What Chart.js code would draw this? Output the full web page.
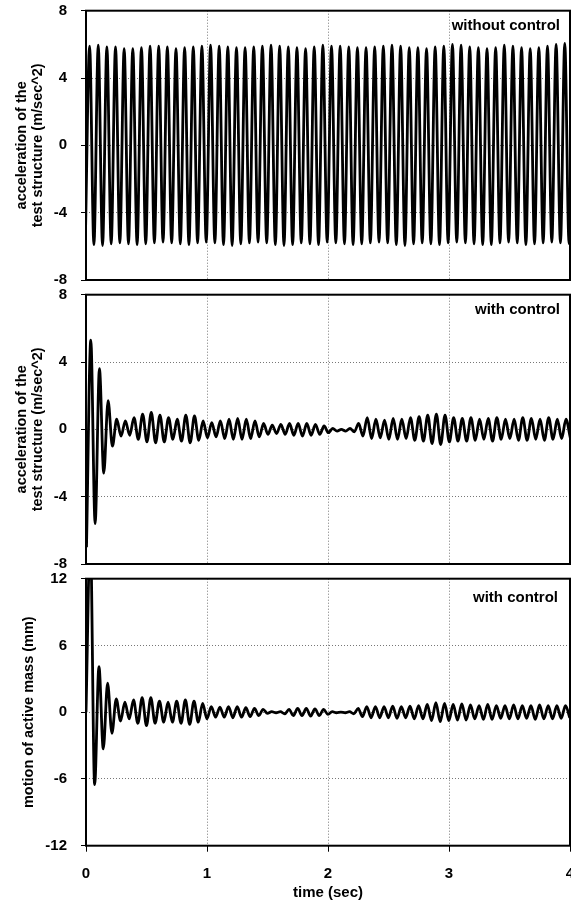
<!DOCTYPE html>
<html>
<head>
<meta charset="utf-8">
<script src="https://cdn.jsdelivr.net/npm/chart.js@4"></script>
<style>
  body { margin: 0; background: #fff; }
  #page { position: relative; width: 571px; height: 902px; overflow: hidden; }
  canvas { position: absolute; left: 0; }
  .tag { position: absolute; font: bold 15px "Liberation Sans", Arial, sans-serif; line-height: 18px; color: #000; white-space: nowrap; }
</style>
</head>
<body>
<div id="page">
  <canvas id="c1" width="571" height="290" style="top:0"></canvas>
  <canvas id="c2" width="571" height="290" style="top:284px"></canvas>
  <canvas id="c3" width="571" height="334" style="top:568px"></canvas>
  <div class="tag" style="right:11px; top:16px">without control</div>
  <div class="tag" style="right:11px; top:300px">with control</div>
  <div class="tag" style="right:13px; top:588px">with control</div>
</div>
<script>
// extremes of each oscillation (alternating trough / peak)
const halfPeriod = 0.0357;   // s, from ~14 cycles per second

// top panel, without control
const freeStart = -0.006;
const freeTroughs = [
  -5.85,-5.9,-5.95,-5.85,-5.8,-5.85,-5.9,-5.85,-5.8,-5.75,-5.8,-5.85,-5.9,-5.8,
  -5.75,-5.8,-5.9,-5.95,-5.85,-5.8,-5.75,-5.8,-5.9,-5.95,-5.9,-5.8,-5.85,-5.9,-5.75,
  -5.8,-5.85,-5.9,-5.85,-5.8,-5.75,-5.8,-5.9,-5.95,-5.85,-5.8,-5.85,-5.9,-5.8,
  -5.75,-5.8,-5.85,-5.9,-5.9,-5.8,-5.75,-5.8,-5.9,-5.85,-5.8,-5.75,-5.8,-5.85
];
const freePeaks = [
  5.9,5.95,5.85,5.85,5.75,5.75,5.8,5.9,5.9,5.85,5.75,5.8,5.85,5.9,
  5.95,5.9,5.85,5.8,5.8,5.85,5.9,5.95,5.9,5.85,5.8,5.75,5.85,5.95,5.9,
  5.9,5.85,5.8,5.8,5.85,5.9,5.95,5.9,5.8,5.8,5.75,5.85,5.9,6.0,
  5.95,5.85,5.8,5.75,5.8,5.95,5.9,5.8,5.75,5.8,5.9,6.0,6.05,6.0
];

// middle panel, acceleration with control
const accStart = 0.004;
const accCtrl = [
  -7.0, 5.3, -5.6, 3.6, -2.6, 1.7, -1.0, 0.6, -0.4, 0.5,
  -0.35, 0.7, -0.6, 0.9, -0.75, 1.0, -0.8, 0.85, -0.75, 0.7,
  -0.6, 0.6, -0.7, 0.85, -0.8, 0.8, -0.65, 0.5, -0.5, 0.4,
  -0.45, 0.5, -0.55, 0.6, -0.6, 0.65, -0.6, 0.6, -0.55, 0.5,
  -0.45, 0.35, -0.3, 0.25, -0.25, 0.3, -0.3, 0.35, -0.35, 0.35,
  -0.4, 0.35, -0.35, 0.3, -0.3, 0.2, -0.2, 0.05, -0.1, 0.0,
  -0.1, 0.05, -0.15, 0.35, -0.4, 0.7, -0.55, 0.6, -0.5, 0.55,
  -0.6, 0.65, -0.6, 0.6, -0.55, 0.7, -0.65, 0.75, -0.7, 0.85,
  -0.85, 0.9, -0.9, 0.85, -0.75, 0.7, -0.7, 0.65, -0.7, 0.7,
  -0.65, 0.6, -0.6, 0.65, -0.7, 0.7, -0.6, 0.6, -0.55, 0.6,
  -0.65, 0.7, -0.65, 0.65, -0.6, 0.6, -0.65, 0.7, -0.6, 0.6,
  -0.55, 0.6, -0.5
];

// bottom panel, motion of the active mass (mm)
const massStart = 0;
const massCtrl = [
  0, 16, -6.5, 4.1, -3.3, 2.6, -1.9, 1.2, -0.8, 0.9,
  -0.6, 1.1, -1.0, 1.3, -1.2, 1.3, -1.0, 1.0, -0.9, 0.9,
  -0.9, 1.0, -1.0, 1.1, -1.1, 1.0, -0.9, 0.8, -0.6, 0.5,
  -0.45, 0.45, -0.45, 0.5, -0.5, 0.5, -0.45, 0.4, -0.4, 0.35,
  -0.3, 0.25, -0.1, 0.05, -0.05, 0.05, -0.15, 0.25, -0.3, 0.35,
  -0.3, 0.35, -0.35, 0.3, -0.3, 0.25, -0.2, 0.05, -0.05, 0.0,
  -0.05, 0.05, -0.15, 0.35, -0.4, 0.5, -0.5, 0.5, -0.5, 0.5,
  -0.5, 0.55, -0.55, 0.5, -0.5, 0.55, -0.6, 0.6, -0.6, 0.7,
  -0.75, 0.85, -0.85, 0.8, -0.75, 0.7, -0.7, 0.75, -0.7, 0.65,
  -0.6, 0.6, -0.65, 0.7, -0.65, 0.6, -0.55, 0.6, -0.6, 0.65,
  -0.6, 0.6, -0.55, 0.6, -0.65, 0.65, -0.6, 0.6, -0.6, 0.6,
  -0.55, 0.6, -0.5
];

const timeTicks = [0, 1, 2, 3, 4];
const accTicks = [-8, -4, 0, 4, 8];
const massTicks = [-12, -6, 0, 6, 12];

function toPoints(start, values) {
  return values.map((v, i) => ({ x: start + i * halfPeriod, y: v }));
}

const freeValues = [];
freeTroughs.forEach((v, i) => { freeValues.push(v, freePeaks[i]); });

Chart.defaults.font.family = '"Liberation Sans", Arial, sans-serif';
Chart.defaults.font.size = 15;
Chart.defaults.font.weight = 'bold';
Chart.defaults.color = '#000';

const frame = {
  id: 'frame',
  afterDraw(chart) {
    const a = chart.chartArea, ctx = chart.ctx;
    ctx.save();
    ctx.strokeStyle = '#000';
    ctx.lineWidth = 2;
    ctx.strokeRect(a.left, a.top, a.right - a.left, a.bottom - a.top);
    ctx.restore();
  }
};

function makePanel(id, points, ticks, yTitle, titlePad, bottomAxis) {
  const pad = { top: 10.7, bottom: bottomAxis ? 0 : 10, left: 0, right: 1 };
  new Chart(document.getElementById(id), {
    type: 'line',
    data: {
      datasets: [{
        data: points,
        borderColor: '#000',
        borderWidth: 2.8,
        pointRadius: 0,
        cubicInterpolationMode: 'monotone',
        fill: false
      }]
    },
    options: {
      responsive: false,
      animation: false,
      layout: { padding: pad },
      plugins: { legend: { display: false }, tooltip: { enabled: false } },
      scales: {
        x: {
          type: 'linear',
          min: timeTicks[0],
          max: timeTicks[timeTicks.length - 1],
          afterBuildTicks: s => { s.ticks = timeTicks.map(v => ({ value: v })); },
          afterFit: s => { s.height = bottomAxis ? 56.3 : 0; s.paddingLeft = 0; s.paddingRight = 0; },
          ticks: { display: bottomAxis, padding: 13 },
          grid: { color: '#777', lineWidth: 1, drawTicks: bottomAxis, tickLength: 6, tickColor: '#000', tickBorderDash: [] },
          border: { display: false, dash: [1, 2] },
          title: { display: bottomAxis, text: 'time (sec)', padding: 0, font: { size: 15, lineHeight: 1.2 } }
        },
        y: {
          min: ticks[0],
          max: ticks[ticks.length - 1],
          afterBuildTicks: s => { s.ticks = ticks.map(v => ({ value: v })); },
          afterFit: s => { s.width = 86; s.paddingTop = 0; s.paddingBottom = 0; },
          ticks: { padding: 14 },
          grid: { color: '#777', lineWidth: 1, tickLength: 5, tickColor: '#000', tickBorderDash: [] },
          border: { display: false, dash: [1, 2] },
          title: { display: true, text: yTitle, padding: { top: titlePad, bottom: 0 }, font: { size: 14.5, lineHeight: 1.1 } }
        }
      }
    },
    plugins: [frame]
  });
}

makePanel('c1', toPoints(freeStart, freeValues), accTicks,
  ['acceleration of the', 'test structure (m/sec^2)'], 14.5, false);
makePanel('c2', toPoints(accStart, accCtrl), accTicks,
  ['acceleration of the', 'test structure (m/sec^2)'], 14.5, false);
makePanel('c3', toPoints(massStart, massCtrl), massTicks,
  'motion of active mass (mm)', 21, true);
</script>
</body>
</html>
